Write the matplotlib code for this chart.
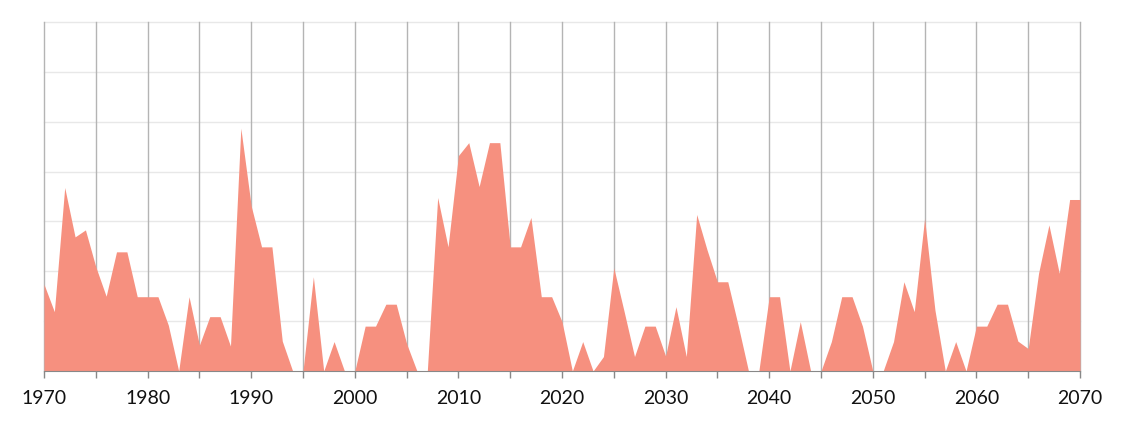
import matplotlib.pyplot as plt
import numpy as np

years = np.arange(1970, 2071)
values = [
    17.4, 11.9, 36.8, 26.9, 28.3, 20.9, 15.0, 23.9, 23.9, 14.9,   # 1970-1979
    14.9, 14.9, 9.2, 0, 14.9, 5.2, 10.9, 10.9, 5.0, 48.7,          # 1980-1989
    33.1, 24.9, 24.9, 6.0, 0, 0, 18.9, 0, 5.9, 0,                  # 1990-1999
    0, 9.0, 9.0, 13.4, 13.4, 5.5, 0, 0, 34.8, 24.9,                # 2000-2009
    43.2, 45.8, 37.0, 45.8, 45.8, 24.9, 24.9, 30.8, 14.9, 14.9,    # 2010-2019
    9.9, 0, 5.9, 0, 2.9, 20.7, 11.9, 2.9, 9.0, 9.0,                # 2020-2029
    3.0, 12.9, 2.9, 31.4, 24.3, 17.9, 17.9, 9.2, 0, 0,             # 2030-2039
    14.9, 14.9, 0, 9.9, 0, 0, 5.9, 14.9, 14.9, 9.0,                # 2040-2049
    0, 0, 5.9, 17.9, 11.9, 30.6, 12.2, 0, 5.9, 0,                  # 2050-2059
    9.0, 9.0, 13.4, 13.4, 6.0, 4.5, 19.6, 29.3, 19.6, 34.4,        # 2060-2069
    34.4,                                                          # 2070
]
major_ticks = np.arange(1970, 2071, 10)
minor_ticks = np.arange(1970, 2071, 5)

fig = plt.figure(figsize=(11.23, 4.23), dpi=100)
ax = fig.add_axes([44 / 1123, 52 / 423, 1036 / 1123, 349 / 423])

ax.fill_between(years, values, 0, color='#F6907F', linewidth=0, zorder=3)

ax.set_xlim(1970, 2070)
ax.set_ylim(0, 70)

# grid: gray verticals every 5 years, light horizontals
for x in minor_ticks:
    ax.axvline(x, color='#B4B4B4', linewidth=1, zorder=1, clip_on=False)
for y in np.arange(10, 71, 10):
    ax.axhline(y, color='#E8E8E8', linewidth=1, zorder=0, clip_on=False)

ax.set_xticks(major_ticks)
ax.set_xticklabels([str(t) for t in major_ticks], fontsize=14, color='#111111',
                   family=['Lato', 'DejaVu Sans'])
ax.set_xticks(minor_ticks, minor=True)
ax.tick_params(axis='x', which='both', length=5, color='#888888', width=1, pad=9)
ax.set_yticks([])

for side in ['top', 'right', 'left']:
    ax.spines[side].set_visible(False)
ax.spines['bottom'].set_color('#888888')
ax.spines['bottom'].set_zorder(4)

fig.savefig('out.png', dpi=100)
